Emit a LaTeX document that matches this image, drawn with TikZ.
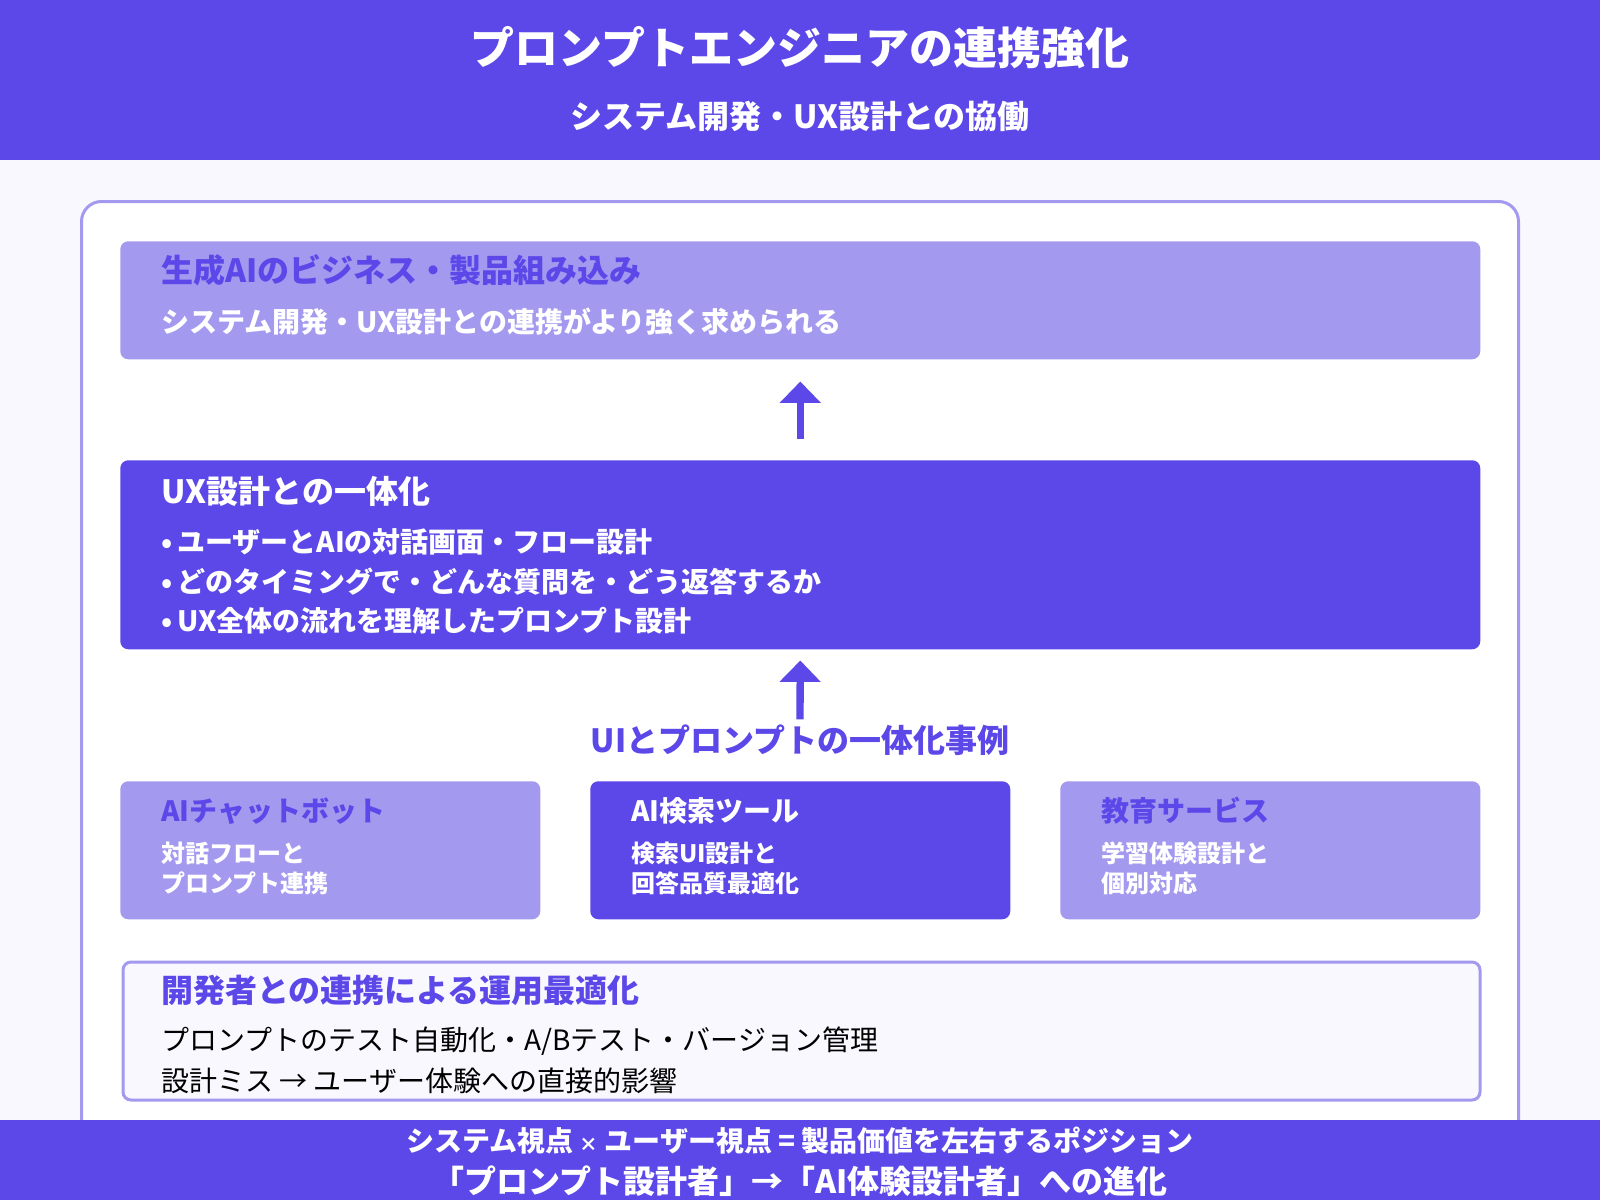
\documentclass[tikz,border=0pt]{standalone}
\usepackage{fontspec}
\setmainfont{Noto Sans CJK JP}
\usetikzlibrary{arrows.meta}
\definecolor{mainviolet}{RGB}{92,72,233}
\definecolor{softviolet}{RGB}{163,154,239}
\definecolor{paleback}{RGB}{248,248,254}
\newcommand{\fsz}[1]{\fontsize{#1}{#1}\selectfont}
\begin{document}
\begin{tikzpicture}[x=0.75pt, y=-0.75pt,
  panel/.style={anchor=north west, inner sep=0pt, rounded corners=6pt},
  txt/.style={anchor=west, inner sep=0pt},
  bigarrow/.style={mainviolet, line width=5.5pt, -{Triangle[width=30pt, length=16pt]}}]
  \useasboundingbox (0,0) rectangle (1600,1200);
  \fill[paleback] (0,0) rectangle (1600,1200);

  % header
  \fill[mainviolet] (0,0) rectangle (1600,160);
  \node[inner sep=0pt, text=white, font=\bfseries\fsz{33}] (title) at (800,48) {プロンプトエンジニアの連携強化};
  \node[inner sep=0pt, text=white, font=\bfseries\fsz{24}] (subtitle) at (800,116) {システム開発・UX設計との協働};

  \draw[softviolet, line width=2.25pt, fill=white, rounded corners=15pt] (81.5,201.5) rectangle (1518.5,1190);

  % top panel
  \node[panel, fill=softviolet, minimum width=1020pt, minimum height=88.5pt] (genai) at (120,241) {};
  \node[txt, text=mainviolet, font=\bfseries\fsz{24}] (genaihead) at (161,270) {生成AIのビジネス・製品組み込み};
  \node[txt, text=white, font=\bfseries\fsz{21}] (genailine) at (161,322) {システム開発・UX設計との連携がより強く求められる};

  % ux panel
  \node[panel, fill=mainviolet, minimum width=1020pt, minimum height=141.75pt] (ux) at (120,460) {};
  \node[txt, text=white, font=\bfseries\fsz{24}] (uxhead) at (161,491) {UX設計との一体化};
  \foreach \i/\y/\t in {1/542/ユーザーとAIの対話画面・フロー設計, 2/582/どのタイミングで・どんな質問を・どう返答するか, 3/621/UX全体の流れを理解したプロンプト設計} {
    \node[txt, text=white, font=\bfseries\fsz{21}] (uxline\i) at (161,\y) {•\,\t};
  }

  \draw[bigarrow] ([yshift=15.75pt]ux.north) -- ([yshift=-16.5pt]genai.south);

  % examples
  \node[inner sep=0pt, text=mainviolet, font=\bfseries\fsz{24}] (examples) at (800,740) {UIとプロンプトの一体化事例};
  \draw[bigarrow] ([yshift=3.75pt]examples.north) -- ([yshift=-8.25pt]ux.south);

  \foreach \i/\x/\bg/\hc/\head/\la/\lb in {
    1/120/softviolet/mainviolet/AIチャットボット/対話フローと/プロンプト連携,
    2/590/mainviolet/white/AI検索ツール/検索UI設計と/回答品質最適化,
    3/1060/softviolet/mainviolet/教育サービス/学習体験設計と/個別対応} {
    \node[panel, fill=\bg, minimum width=315pt, minimum height=103.5pt] (case\i) at (\x,781) {};
    \node[txt, text=\hc, font=\bfseries\fsz{21}] (casehead\i) at (\x+41,811) {\head};
    \node[txt, text=white, font=\bfseries\fsz{18}] (casea\i) at (\x+41,853) {\la};
    \node[txt, text=white, font=\bfseries\fsz{18}] (caseb\i) at (\x+41,883) {\lb};
  }

  % dev panel
  \node[panel, draw=softviolet, line width=2.25pt, fill=paleback, minimum width=1017.75pt, minimum height=103.5pt] (dev) at (121.5,960.5) {};
  \node[txt, text=mainviolet, font=\bfseries\fsz{24}] (devhead) at (161,990) {開発者との連携による運用最適化};
  \node[txt, text=black, font=\fsz{21}] (deva) at (161,1041) {プロンプトのテスト自動化・A/Bテスト・バージョン管理};
  \node[txt, text=black, font=\fsz{21}] (devb) at (161,1081) {設計ミス → ユーザー体験への直接的影響};

  % footer
  \fill[mainviolet] (0,1120) rectangle (1600,1200);
  \node[inner sep=0pt, text=white, font=\bfseries\fsz{21}] (foota) at (800,1141) {システム視点 {\fsz{14}×} ユーザー視点 = 製品価値を左右するポジション};
  \node[inner sep=0pt, text=white, font=\bfseries\fsz{24}] (footb) at (800,1181) {「プロンプト設計者」→「AI体験設計者」への進化};
\end{tikzpicture}
\end{document}
